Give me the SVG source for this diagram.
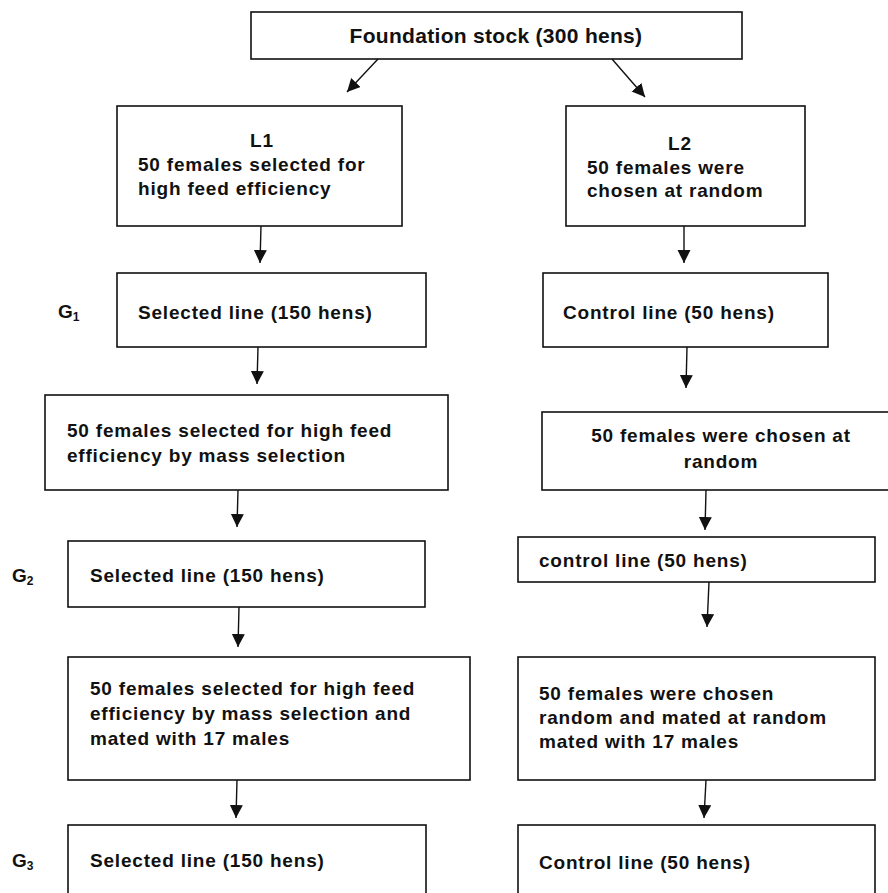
<svg xmlns="http://www.w3.org/2000/svg" width="888" height="893" viewBox="0 0 888 893">
<defs>
<marker id="ah" markerUnits="userSpaceOnUse" markerWidth="14" markerHeight="14" refX="13" refY="6.5" orient="auto">
<path d="M0,0 L13,6.5 L0,13 z" fill="#111"/>
</marker>
<style>
.box{fill:#fff;stroke:#111;stroke-width:1.6}
.t{font-family:"Liberation Sans",Arial,sans-serif;font-weight:bold;font-size:19px;letter-spacing:0.8px;fill:#111}
.big{font-size:21px;letter-spacing:0.3px}
.g{font-family:"Liberation Sans",Arial,sans-serif;font-weight:bold;font-size:19px;fill:#111}
.sub{font-size:12px}
.c{text-anchor:middle}
.con{stroke:#111;stroke-width:1.4;fill:none;marker-end:url(#ah)}
</style>
</defs>
<rect width="888" height="893" fill="#fff"/>

<g id="foundation">
<rect class="box" x="251" y="12" width="491" height="47"/>
<text class="t big c" x="496" y="43">Foundation stock (300 hens)</text>
</g>

<g id="l1">
<rect class="box" x="117" y="106" width="285" height="120"/>
<text class="t c" x="262" y="147">L1</text>
<text class="t" x="138" y="171">50 females selected for</text>
<text class="t" x="138" y="195">high feed efficiency</text>
</g>

<g id="l2">
<rect class="box" x="566" y="106" width="239" height="120"/>
<text class="t c" x="680" y="150">L2</text>
<text class="t" x="587" y="174">50 females were</text>
<text class="t" x="587" y="197">chosen at random</text>
</g>

<g id="g1-label"><text class="g" x="58" y="318">G<tspan class="sub" dy="3">1</tspan></text></g>
<g id="g2-label"><text class="g" x="12" y="582">G<tspan class="sub" dy="3">2</tspan></text></g>
<g id="g3-label"><text class="g" x="12" y="867">G<tspan class="sub" dy="3">3</tspan></text></g>

<g id="sel-g1">
<rect class="box" x="117" y="273" width="309" height="74"/>
<text class="t" x="138" y="319">Selected line (150 hens)</text>
</g>

<g id="ctl-g1">
<rect class="box" x="543" y="273" width="285" height="74"/>
<text class="t" x="563" y="319">Control line (50 hens)</text>
</g>

<g id="sel-mass">
<rect class="box" x="45" y="395" width="403" height="95"/>
<text class="t" x="67" y="437">50 females selected for high feed</text>
<text class="t" x="67" y="462">efficiency by mass selection</text>
</g>

<g id="ctl-random">
<rect class="box" x="542" y="412" width="360" height="78"/>
<text class="t c" x="721" y="442">50 females were chosen at</text>
<text class="t c" x="721" y="468">random</text>
</g>

<g id="sel-g2">
<rect class="box" x="68" y="541" width="357" height="66"/>
<text class="t" x="90" y="582">Selected line (150 hens)</text>
</g>

<g id="ctl-g2">
<rect class="box" x="518" y="537" width="357" height="45"/>
<text class="t" x="539" y="567">control line (50 hens)</text>
</g>

<g id="sel-mated">
<rect class="box" x="68" y="657" width="402" height="123"/>
<text class="t" x="90" y="695">50 females selected for high feed</text>
<text class="t" x="90" y="720">efficiency by mass selection and</text>
<text class="t" x="90" y="745">mated with 17 males</text>
</g>

<g id="ctl-mated">
<rect class="box" x="518" y="657" width="357" height="123"/>
<text class="t" x="539" y="700">50 females were chosen</text>
<text class="t" x="539" y="724">random and mated at random</text>
<text class="t" x="539" y="748">mated with 17 males</text>
</g>

<g id="sel-g3">
<rect class="box" x="68" y="825" width="358" height="80"/>
<text class="t" x="90" y="867">Selected line (150 hens)</text>
</g>

<g id="ctl-g3">
<rect class="box" x="518" y="825" width="357" height="80"/>
<text class="t" x="539" y="869">Control line (50 hens)</text>
</g>

<g id="connectors">
<line class="con" x1="378" y1="59" x2="347" y2="92"/>
<line class="con" x1="612" y1="59" x2="645" y2="97"/>
<line class="con" x1="261" y1="226" x2="260" y2="263"/>
<line class="con" x1="684" y1="226" x2="684" y2="263"/>
<line class="con" x1="258" y1="347" x2="257" y2="384"/>
<line class="con" x1="687" y1="347" x2="686" y2="388"/>
<line class="con" x1="238" y1="490" x2="237" y2="527"/>
<line class="con" x1="706" y1="490" x2="705" y2="530"/>
<line class="con" x1="239" y1="607" x2="238" y2="647"/>
<line class="con" x1="709" y1="582" x2="707" y2="627"/>
<line class="con" x1="237" y1="780" x2="236" y2="818"/>
<line class="con" x1="706" y1="780" x2="704" y2="818"/>
</g>
</svg>
